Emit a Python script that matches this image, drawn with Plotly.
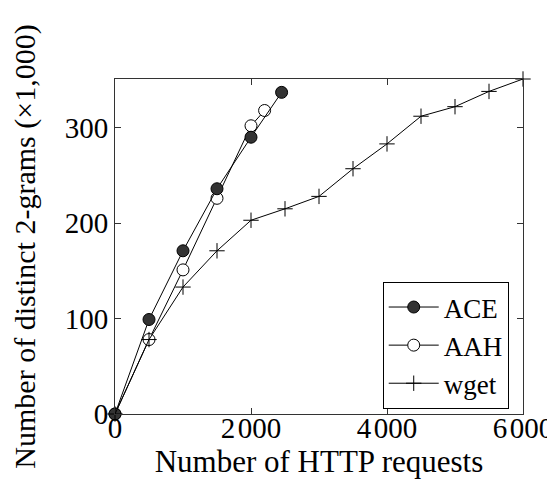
import plotly.graph_objects as go

ace_x = [0, 500, 1000, 1500, 2000, 2450]
ace_y = [0, 99, 171, 236, 290, 337]
aah_x = [0, 500, 1000, 1500, 2000, 2200]
aah_y = [0, 78, 151, 226, 302, 318]
wget_x = [0, 500, 1000, 1500, 2000, 2500, 3000, 3500, 4000, 4500, 5000, 5500, 6000]
wget_y = [0, 78, 133, 171, 203, 215, 228, 257, 283, 312, 322, 338, 351]

x_ticks = [0, 2000, 4000, 6000]
x_ticktext = ["0", "2\u200a000", "4\u200a000", "6\u200a000"]
y_ticks = [0, 100, 200, 300]
y_ticktext = ["0", "100", "200", "300"]

FONT = "Liberation Serif"

fig = go.Figure()
fig.add_trace(go.Scatter(x=aah_x, y=aah_y, name="AAH", mode="lines+markers",
                         cliponaxis=False, legendrank=2,
                         line=dict(color="black", width=1),
                         marker=dict(symbol="circle", size=12, color="white",
                                     line=dict(color="black", width=1))))
fig.add_trace(go.Scatter(x=ace_x, y=ace_y, name="ACE", mode="lines+markers",
                         cliponaxis=False, legendrank=1,
                         line=dict(color="black", width=1),
                         marker=dict(symbol="circle", size=12, color="#333333",
                                     line=dict(color="black", width=1))))
fig.add_trace(go.Scatter(x=wget_x, y=wget_y, name="wget", mode="lines+markers",
                         cliponaxis=False, legendrank=3,
                         line=dict(color="black", width=1),
                         marker=dict(symbol="cross-thin", size=11, color="black",
                                     line=dict(color="black", width=1))))

axis_common = dict(showline=True, linecolor="#333", linewidth=1, mirror="ticks",
                   ticks="inside", ticklen=6, tickcolor="#333", showgrid=False,
                   zeroline=False, automargin=False,
                   tickfont=dict(family=FONT, size=29, color="black"))

fig.update_layout(
    width=547, height=482,
    margin=dict(l=107, r=32, t=71, b=76),
    paper_bgcolor="white", plot_bgcolor="white",
    font=dict(family=FONT, color="black"),
    xaxis=dict(range=[0, 6000], tickvals=x_ticks, ticktext=x_ticktext,
               title=dict(text="Number of HTTP requests", font=dict(family=FONT, size=31), standoff=2),
               ticklabelstandoff=-12,
               **axis_common),
    yaxis=dict(range=[0, 351], tickvals=y_ticks, ticktext=y_ticktext,
               title=dict(text="Number of distinct 2-grams (×1,000)", font=dict(family=FONT, size=30), standoff=30),
               ticklabelstandoff=0,
               **axis_common),
    legend=dict(x=0.965, y=0.015, xanchor="right", yanchor="bottom",
                bordercolor="black", borderwidth=1, bgcolor="white",
                font=dict(family=FONT, size=27), itemwidth=50, tracegroupgap=0,
                traceorder="normal"),
    showlegend=True,
)

fig.write_html("out.html")
